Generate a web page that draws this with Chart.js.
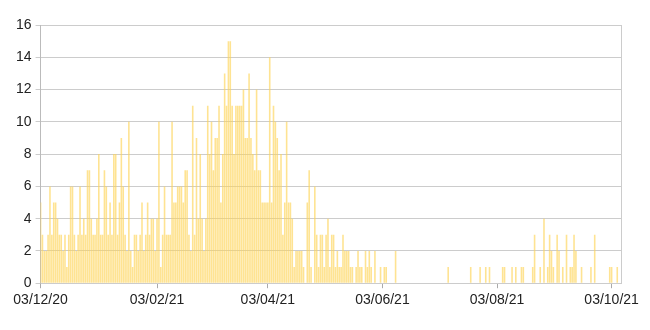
<!DOCTYPE html>
<html>
<head>
<meta charset="utf-8">
<script src="https://cdn.jsdelivr.net/npm/chart.js@4"></script>
<style>
  html, body { margin: 0; padding: 0; background: #fff; }
  #wrap { width: 650px; height: 330px; }
</style>
</head>
<body>
<div id="wrap"><canvas id="chart" width="650" height="330"></canvas></div>
<script>
// daily counts, starting 03/12/20
const startDate = Date.UTC(2020, 11, 3);
const dailyValues = [
  5, 3, 2, 2, 3, 6, 3, 5, 5, 4,
  3, 3, 2, 3, 1, 3, 6, 6, 3, 2,
  3, 6, 3, 4, 3, 7, 7, 4, 3, 3,
  4, 8, 3, 3, 7, 6, 3, 5, 3, 8,
  8, 3, 5, 9, 6, 3, 2, 10, 2, 1,
  3, 3, 2, 3, 5, 2, 3, 5, 3, 4,
  4, 2, 4, 10, 1, 3, 6, 3, 3, 3,
  10, 5, 5, 6, 6, 6, 5, 7, 7, 3,
  2, 11, 3, 9, 4, 8, 4, 2, 4, 11,
  8, 10, 7, 9, 9, 11, 5, 8, 13, 11,
  15, 15, 11, 8, 11, 11, 11, 11, 12, 9,
  9, 13, 9, 8, 7, 12, 7, 7, 5, 5,
  5, 5, 14, 5, 11, 10, 9, 7, 8, 3,
  5, 10, 5, 5, 4, 1, 2, 2, 2, 2,
  1, 0, 5, 7, 1, 0, 6, 3, 1, 3,
  3, 1, 3, 4, 1, 3, 3, 1, 2, 1,
  1, 3, 2, 2, 2, 1, 1, 0, 1, 2,
  1, 1, 0, 2, 1, 2, 1, 0, 2, 0,
  0, 1, 0, 1, 1, 0, 0, 0, 0, 2,
  0, 0, 0, 0, 0, 0, 0, 0, 0, 0,
  0, 0, 0, 0, 0, 0, 0, 0, 0, 0,
  0, 0, 0, 0, 0, 0, 0, 1, 0, 0,
  0, 0, 0, 0, 0, 0, 0, 0, 0, 1,
  0, 0, 0, 0, 1, 0, 0, 1, 0, 1,
  0, 0, 0, 0, 0, 0, 1, 1, 0, 0,
  0, 1, 0, 1, 0, 0, 1, 1, 0, 0,
  0, 0, 1, 3, 0, 0, 1, 0, 4, 0,
  1, 3, 2, 1, 0, 3, 2, 0, 1, 0,
  3, 0, 1, 1, 3, 2, 0, 0, 1, 0,
  0, 0, 0, 1, 0, 3, 0, 0, 0, 0,
  0, 0, 0, 1, 1, 0, 0, 1, 0, 0
];
const tickLabels = ['03/12/20', '03/02/21', '03/04/21', '03/06/21', '03/08/21', '03/10/21'];
const yTicks = [0, 2, 4, 6, 8, 10, 12, 14, 16];

const pad = n => String(n).padStart(2, '0');
const days = dailyValues.map((_, i) => {
  const d = new Date(startDate + i * 86400000);
  return pad(d.getUTCDate()) + '/' + pad(d.getUTCMonth() + 1) + '/' + pad(d.getUTCFullYear() % 100);
});

// right frame line of the plot area
const rightBorder = {
  id: 'rightBorder',
  afterDraw(chart) {
    const { ctx, chartArea: a } = chart;
    ctx.save();
    ctx.strokeStyle = '#cccccc';
    ctx.lineWidth = 1;
    ctx.beginPath();
    ctx.moveTo(Math.round(a.right) + 0.5, a.top);
    ctx.lineTo(Math.round(a.right) + 0.5, a.bottom);
    ctx.stroke();
    ctx.restore();
  }
};

const font = { family: '"Liberation Sans", Arial, sans-serif', size: 14 };

new Chart(document.getElementById('chart'), {
  type: 'bar',
  data: {
    labels: days,
    datasets: [{
      data: dailyValues,
      backgroundColor: 'rgba(253, 212, 88, 0.65)',
      borderWidth: 0,
      barPercentage: 0.85,
      categoryPercentage: 1
    }]
  },
  options: {
    responsive: false,
    animation: false,
    layout: { padding: { left: 12, right: 29, top: 25, bottom: 17 } },
    plugins: { legend: { display: false }, tooltip: { enabled: false } },
    scales: {
      x: {
        offset: false,
        grid: { offset: false, drawOnChartArea: false, color: '#aaaaaa', tickLength: 5 },
        border: { color: '#cccccc' },
        afterBuildTicks: axis => {
          axis.ticks = axis.ticks.filter(t => tickLabels.includes(days[t.value]));
        },
        ticks: {
          autoSkip: false,
          maxRotation: 0,
          padding: 4,
          color: '#222222',
          font: font,
          callback: v => days[v]
        }
      },
      y: {
        min: 0,
        max: 16,
        afterBuildTicks: axis => { axis.ticks = yTicks.map(v => ({ value: v })); },
        grid: { color: '#cccccc', tickLength: 5 },
        border: { color: '#bbbbbb' },
        ticks: { color: '#222222', font: font, padding: 4 }
      }
    }
  },
  plugins: [rightBorder]
});
</script>
</body>
</html>
